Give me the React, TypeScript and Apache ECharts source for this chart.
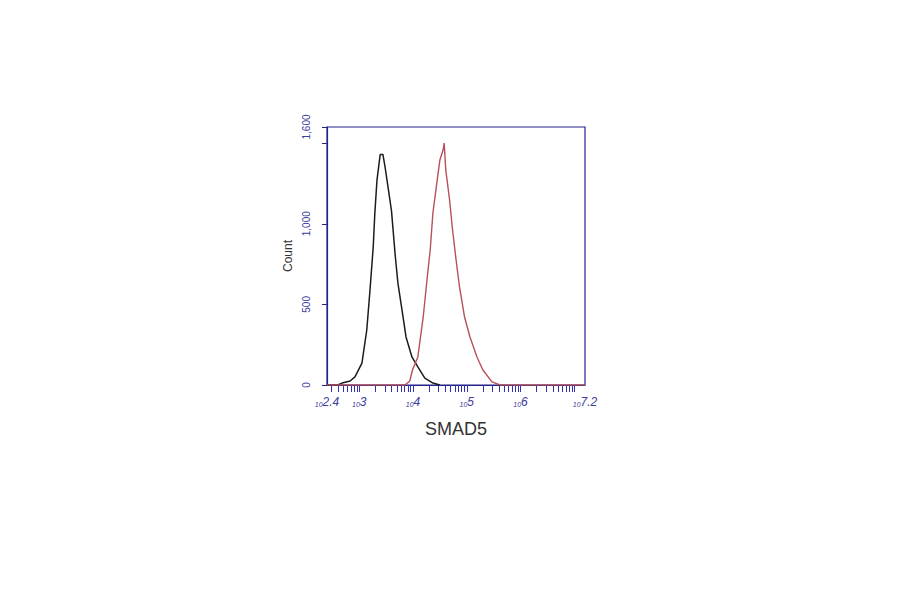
import React, { useEffect, useRef } from "react";
import * as echarts from "echarts";

// x values are log10 of fluorescence intensity
const blackX = [2.4, 2.6, 2.68, 2.83, 2.92, 3.05, 3.14, 3.2, 3.26, 3.29, 3.33, 3.39, 3.44, 3.48, 3.53, 3.6, 3.67, 3.72, 3.8, 3.87, 3.98, 4.09, 4.22, 4.37, 4.5];
const blackY = [0, 0, 12, 25, 50, 136, 341, 589, 856, 1066, 1271, 1430, 1430, 1352, 1240, 1080, 800, 630, 455, 298, 174, 112, 43, 12, 0];

const redX = [2.4, 3.85, 3.94, 3.99, 4.09, 4.19, 4.26, 4.32, 4.37, 4.45, 4.5, 4.56, 4.58, 4.61, 4.68, 4.73, 4.8, 4.86, 4.96, 5.06, 5.19, 5.3, 5.47, 5.62, 7.2];
const redY = [0, 0, 25, 93, 174, 422, 651, 837, 1066, 1271, 1395, 1457, 1500, 1333, 1150, 980, 780, 620, 420, 298, 174, 93, 19, 0, 0];

const xLabelValues = [2.4, 3, 4, 5, 6, 7.2];
const yLabelShown = [0, 500, 1000, 1600];

const X_MIN = 2.4;
const X_MAX = 7.2;

function logTicks(): number[] {
  const out: number[] = [];
  for (let d = 2; d <= 7; d++) {
    for (let k = 1; k <= 9; k++) {
      const v = d + Math.log10(k);
      if (v >= X_MIN - 1e-9 && v <= X_MAX + 1e-9) out.push(+v.toFixed(4));
    }
  }
  return out;
}

export default function App() {
  const ref = useRef<HTMLDivElement>(null);
  useEffect(() => {
    if (!ref.current) return;
    const chart = echarts.init(ref.current, undefined, { renderer: "svg" });
    const navy = "#23238a";
    const labelBlue = "#3c3c9c";
    chart.setOption({
      animation: false,
      backgroundColor: "#ffffff",
      textStyle: { fontFamily: "Liberation Sans" },
      grid: {
        left: 327,
        top: 127,
        width: 258,
        height: 258,
        show: true,
        borderColor: navy,
        borderWidth: 1.2,
        backgroundColor: "transparent",
      },
      xAxis: {
        type: "value",
        min: X_MIN,
        max: X_MAX,
        name: "SMAD5",
        nameLocation: "middle",
        nameGap: 35,
        nameTextStyle: { fontSize: 18, color: "#333", fontFamily: "Liberation Sans" },
        axisLine: { show: true, lineStyle: { color: navy, width: 1.2 } },
        axisTick: {
          show: true,
          length: 7,
          customValues: logTicks(),
          lineStyle: { color: "#3030b0", width: 1 },
        },
        splitLine: { show: false },
        axisLabel: {
          customValues: xLabelValues,
          margin: 11,
          color: labelBlue,
          formatter: (v: number) => {
            const s = Math.abs(v - Math.round(v)) < 1e-6 ? String(Math.round(v)) : v.toFixed(1);
            return "{sm|10}{ex|" + s + "}";
          },
          rich: {
            sm: { fontSize: 7, color: labelBlue, fontStyle: "italic", verticalAlign: "bottom", padding: [5, 0, 0, 0] },
            ex: { fontSize: 12, color: labelBlue, fontStyle: "italic" },
          },
        },
      },
      yAxis: {
        type: "value",
        min: 0,
        max: 1600,
        interval: 500,
        name: "Count",
        nameLocation: "middle",
        nameGap: 33,
        nameRotate: 90,
        nameTextStyle: { fontSize: 12, color: "#333", fontFamily: "Liberation Sans" },
        axisLine: { show: true, lineStyle: { color: navy, width: 1.2 } },
        axisTick: { show: true, length: 5, lineStyle: { color: navy } },
        splitLine: { show: false },
        axisLabel: {
          rotate: 90,
          margin: 16,
          fontSize: 10,
          color: labelBlue,
          showMaxLabel: true,
          formatter: (v: number) =>
            yLabelShown.indexOf(v) >= 0 ? v.toLocaleString("en-US") : "",
        },
      },
      series: [
        {
          type: "line",
          name: "control",
          data: blackX.map((x, i) => [x, blackY[i]]),
          showSymbol: false,
          lineStyle: { color: "#1c1c1c", width: 1.5 },
          z: 3,
        },
        {
          type: "line",
          name: "SMAD5",
          data: redX.map((x, i) => [x, redY[i]]),
          showSymbol: false,
          lineStyle: { color: "#b8505a", width: 1.4 },
          z: 4,
        },
      ],
    });
    return () => chart.dispose();
  }, []);
  return <div ref={ref} style={{ width: 900, height: 594, margin: -8 }} />;
}
